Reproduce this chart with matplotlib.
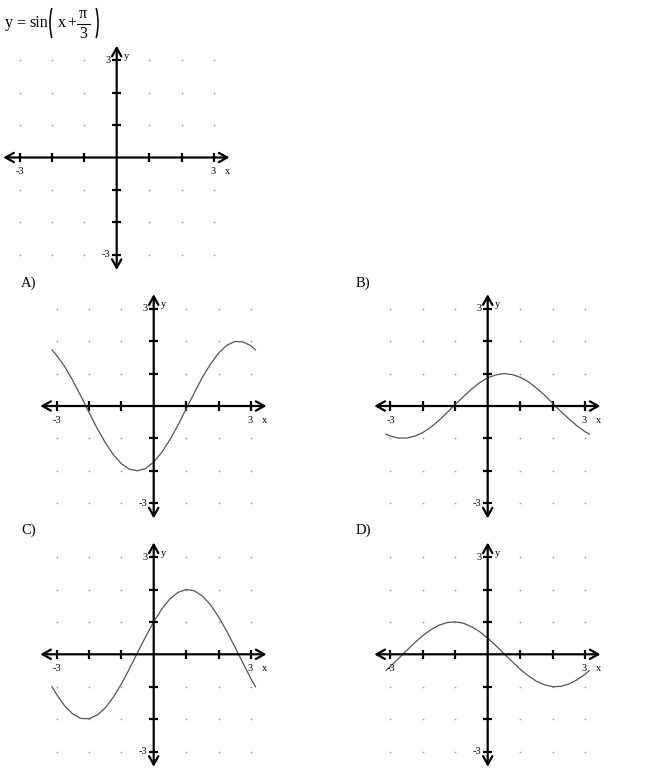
import matplotlib
matplotlib.use('Agg')
import matplotlib.pyplot as plt
from matplotlib.patches import Arc, ArrowStyle
from matplotlib.lines import Line2D

# curve samples (x from -pi to pi)
x_pts = [-3.14, -3.0, -2.75, -2.5, -2.25, -2.0, -1.75, -1.5, -1.25, -1.0, -0.75, -0.5, -0.25, 0.0,
         0.25, 0.5, 0.75, 1.0, 1.25, 1.5, 1.75, 2.0, 2.25, 2.5, 2.75, 3.0, 3.14]
y_A = [1.73, 1.57, 1.22, 0.79, 0.31, -0.19, -0.68, -1.12, -1.50, -1.78, -1.95, -2.00, -1.93, -1.73,
       -1.43, -1.04, -0.59, -0.09, 0.40, 0.88, 1.29, 1.63, 1.87, 1.99, 1.98, 1.86, 1.73]
y_B = [-0.87, -0.93, -0.99, -0.99, -0.93, -0.82, -0.65, -0.44, -0.20, 0.05, 0.29, 0.52, 0.72, 0.87,
       0.96, 1.00, 0.97, 0.89, 0.75, 0.56, 0.34, 0.09, -0.16, -0.39, -0.61, -0.79, -0.87]
y_C = [-1.00, -1.23, -1.59, -1.84, -1.98, -1.99, -1.88, -1.66, -1.33, -0.92, -0.45, 0.05, 0.54, 1.00,
       1.40, 1.71, 1.91, 2.00, 1.96, 1.80, 1.53, 1.16, 0.72, 0.24, -0.26, -0.75, -1.00]
y_D = [-0.50, -0.37, -0.13, 0.12, 0.36, 0.58, 0.76, 0.90, 0.98, 1.00, 0.96, 0.85, 0.70, 0.50,
       0.27, 0.02, -0.22, -0.46, -0.66, -0.83, -0.94, -1.00, -0.99, -0.92, -0.79, -0.62, -0.50]

ticks = [-3, -2, -1, 1, 2, 3]
grid_vals = [-3, -2, -1, 1, 2, 3]
option_labels = ['A)', 'B)', 'C)', 'D)']

W, H = 650, 770
UNIT = 32.4   # pixels per unit
LIM = 3.6
SERIF = ['Liberation Serif', 'DejaVu Serif']

fig = plt.figure(figsize=(W / 100, H / 100), dpi=100)


def make_axes(ox, oy):
    # ox, oy: pixel position of the origin, measured from the top-left
    size = 2 * LIM * UNIT
    left = (ox - LIM * UNIT) / W
    bottom = (H - oy - LIM * UNIT) / H
    ax = fig.add_axes([left, bottom, size / W, size / H])
    ax.set_xlim(-LIM, LIM)
    ax.set_ylim(-LIM, LIM)
    ax.axis('off')
    return ax


def draw_panel(ax, ys=None):
    # grey dots on the integer grid
    gx = [i for i in grid_vals for j in grid_vals]
    gy = [j for i in grid_vals for j in grid_vals]
    ax.scatter(gx, gy, s=1.6, color='#a0a0a0', linewidths=0, clip_on=False)

    head = ArrowStyle('<->', head_length=0.5, head_width=0.28)
    ax.annotate('', xy=(3.48, 0), xytext=(-3.5, 0),
                arrowprops=dict(arrowstyle=head, lw=1.6, color='black',
                                shrinkA=0, shrinkB=0, mutation_scale=12),
                annotation_clip=False)
    ax.annotate('', xy=(0, 3.45), xytext=(0, -3.47),
                arrowprops=dict(arrowstyle=head, lw=1.6, color='black',
                                shrinkA=0, shrinkB=0, mutation_scale=12),
                annotation_clip=False)
    ax.vlines(ticks, -0.14, 0.14, color='black', lw=1.6, clip_on=False)
    ax.hlines(ticks, -0.14, 0.14, color='black', lw=1.6, clip_on=False)

    fs = 7.5
    ax.text(-3, -0.3, '-3', fontsize=fs, family=SERIF, ha='center', va='top')
    ax.text(2.98, -0.3, '3', fontsize=fs, family=SERIF, ha='center', va='top')
    ax.text(3.42, -0.3, 'x', fontsize=fs, family=SERIF, ha='center', va='top')
    ax.text(-0.2, 3.0, '3', fontsize=fs, family=SERIF, ha='right', va='center')
    ax.text(-0.2, -3.0, '-3', fontsize=fs, family=SERIF, ha='right', va='center')
    ax.text(0.22, 3.12, 'y', fontsize=fs, family=SERIF, ha='left', va='center')

    if ys is not None:
        ax.plot(x_pts, ys, color='#555555', lw=0.9, clip_on=False)


draw_panel(make_axes(116.7, 157.5))
origins = [(153.7, 406.0), (487.7, 406.0), (153.7, 654.3), (487.7, 654.3)]
curves = [y_A, y_B, y_C, y_D]
label_pos = [(21, 283), (356, 283), (21, 530), (356, 530)]
for (ox, oy), ys, lab, (lx, ly) in zip(origins, curves, option_labels, label_pos):
    draw_panel(make_axes(ox, oy), ys)
    fig.text(lx / W, 1 - ly / H, lab, fontsize=10.5, family=SERIF, ha='left', va='center')


# title  y = sin( x + pi/3 ), built from pieces in pixel coordinates (from top)
def px(x, y):
    return x / W, 1 - y / H


tfs = 11.5
title_bits = [('y', 5), ('=', 16.5), ('sin', 29), ('x', 57.5), ('+', 67)]
for s, x0 in title_bits:
    fig.text(*px(x0, 27.3), s, fontsize=tfs, family=SERIF, ha='left', va='baseline')
fig.text(*px(83, 18), '\u03c0', fontsize=tfs, family=SERIF, ha='center', va='baseline')
fig.text(*px(83.5, 38.3), '3', fontsize=tfs, family=SERIF, ha='center', va='baseline')
fig.add_artist(Line2D([76.5 / W, 90 / W], [1 - 23.5 / H, 1 - 23.5 / H], color='black', lw=0.8,
                      transform=fig.transFigure))
# big parentheses as thin arcs
fig.add_artist(Arc(px(57, 23), 14 / W, 44 / H, theta1=112, theta2=248, lw=1.1,
                   color='black', transform=fig.transFigure))
fig.add_artist(Arc(px(91, 23), 14 / W, 44 / H, theta1=-68, theta2=68, lw=1.1,
                   color='black', transform=fig.transFigure))

fig.savefig('out.png', dpi=100)
plt.close(fig)
